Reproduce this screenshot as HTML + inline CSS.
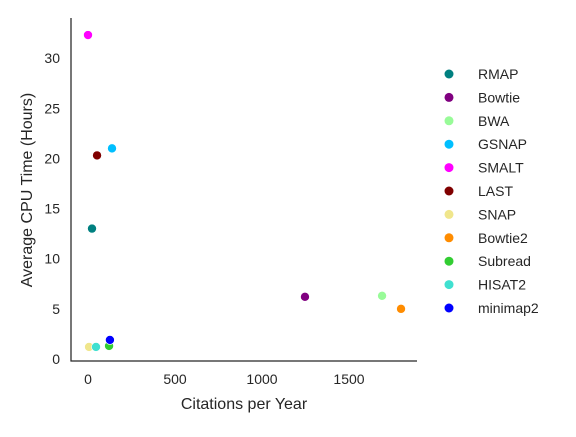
<!DOCTYPE html>
<html><head><meta charset="utf-8"><style>
body{margin:0;background:#fff}
svg text{font-family:"Liberation Sans",sans-serif;fill:#262626}
</style></head><body>
<svg width="576" height="432">
<g id="plot"></g>
</svg>
<script>
const names=["RMAP","Bowtie","BWA","GSNAP","SMALT","LAST","SNAP","Bowtie2","Subread","HISAT2","minimap2"];
const citations=[23,1247,1690,138,0,52,6,1799,121,46,126];
const cpuHours=[13.0,6.2,6.3,21.0,32.3,20.3,1.2,5.0,1.3,1.2,1.9];
const colors=["#008080","#800080","#98fb98","#00bfff","#ff00ff","#800000","#f0e68c","#ff8c00","#32cd32","#40e0d0","#0000ff"];
const xTicks=[0,500,1000,1500];
const yTicks=[0,5,10,15,20,25,30];
const NS="http://www.w3.org/2000/svg";
const g=document.getElementById('plot');
const xs=v=>88+v*0.174;
const ys=v=>359-v*10.03;
function mk(t,a,p){const e=document.createElementNS(NS,t);for(const k in a)e.setAttribute(k,a[k]);(p||g).appendChild(e);return e;}
let e;
e=mk('line',{x1:71,y1:18,x2:71,y2:361.5,stroke:'#262626','stroke-width':1.25});


e=mk('line',{x1:70.5,y1:361,x2:417,y2:361,stroke:'#262626','stroke-width':1.25});


xTicks.forEach(v=>{e=mk('text',{x:xs(v),y:384,'text-anchor':'middle','font-size':14});e.textContent=v;

});
yTicks.forEach(v=>{e=mk('text',{x:60,y:ys(v)+5,'text-anchor':'end','font-size':14});e.textContent=v;

});
e=mk('text',{x:244,y:409,'text-anchor':'middle','font-size':16});e.textContent='Citations per Year';


e=mk('text',{x:0,y:0,'text-anchor':'middle','font-size':16,transform:'translate(32,190) rotate(-90)'});e.textContent='Average CPU Time (Hours)';


names.forEach((n,i)=>{
 e=mk('circle',{cx:xs(citations[i]),cy:ys(cpuHours[i]),r:4.5,fill:colors[i],stroke:'#fff','stroke-width':0.6});
 
 
 const ly=74+i*23.4;
 e=mk('circle',{cx:449,cy:ly,r:4.5,fill:colors[i]});
 
 
 e=mk('text',{x:478,y:ly+5,'font-size':14});e.textContent=n;
 
 
});
</script>
</body></html>
